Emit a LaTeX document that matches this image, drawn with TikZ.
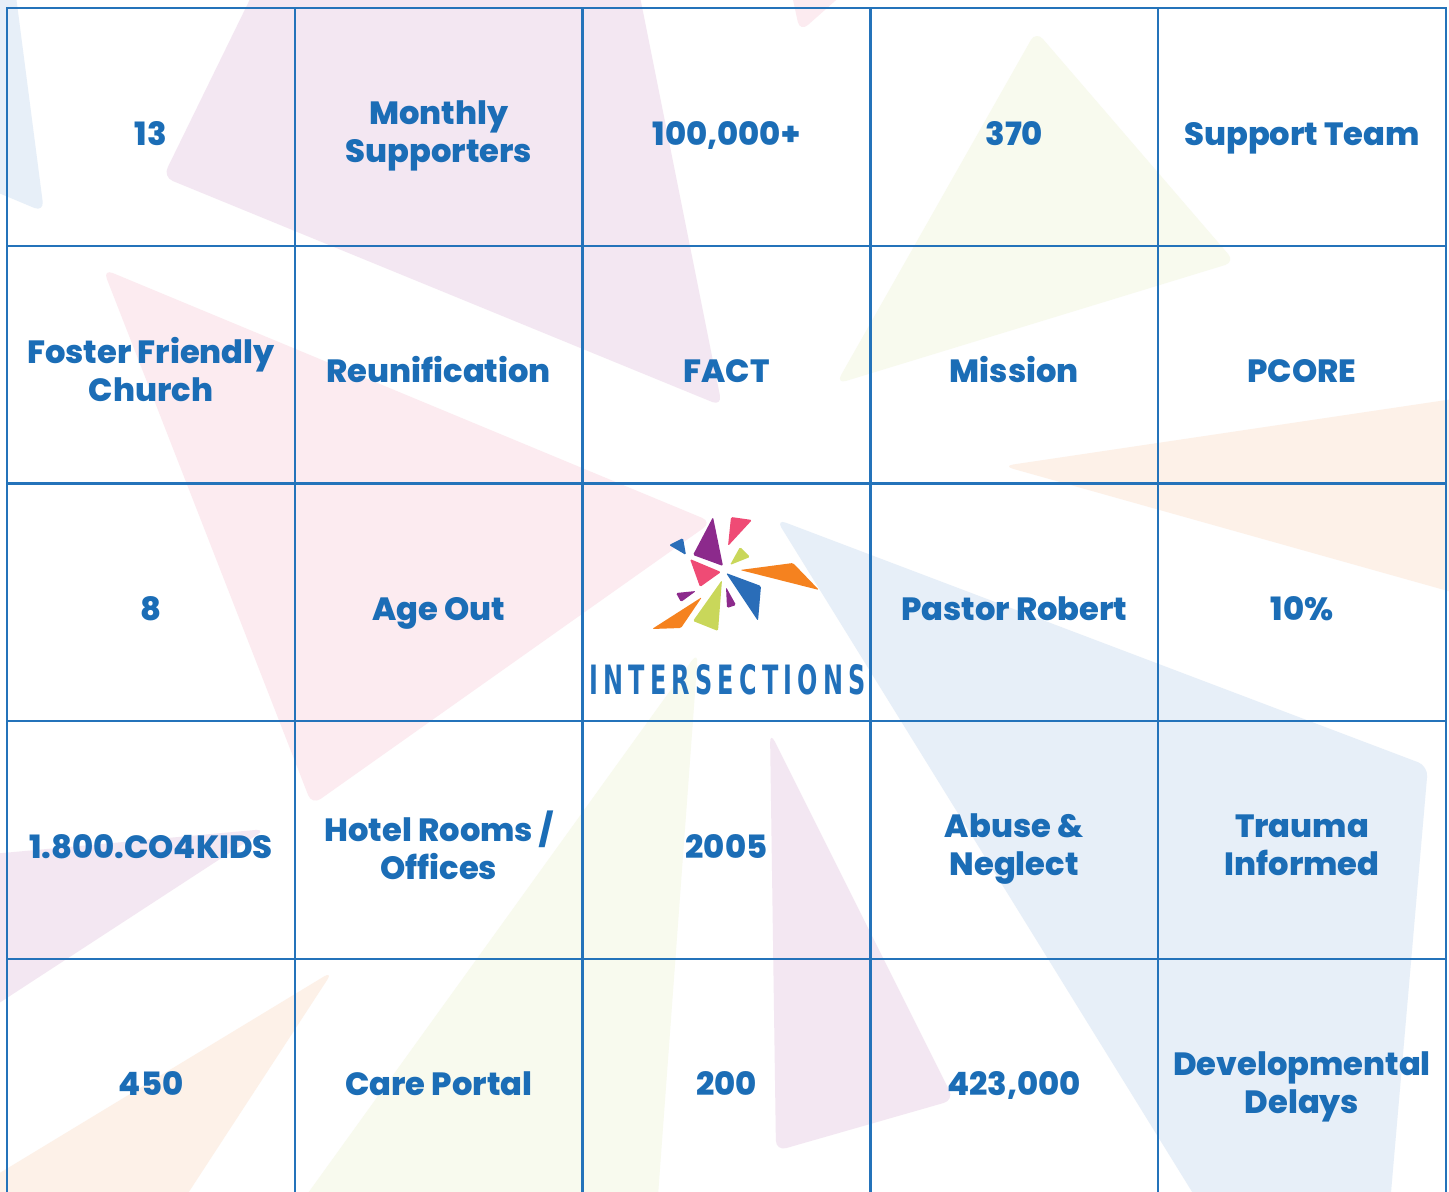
\documentclass[tikz,border=0pt]{standalone}
\usepackage{fontspec}
\setmainfont{Poppins}[BoldFont={Poppins ExtraBold}]
\newfontfamily\logofont{DejaVu Sans}[LetterSpace=22]
\usepackage{tikz}
\usetikzlibrary{positioning}

\definecolor{gridblue}{HTML}{2473BA}
\definecolor{textblue}{HTML}{1B6DB6}
\definecolor{logoblue}{HTML}{2170BA}
\definecolor{lavenderwash}{HTML}{F3E7F2}
\definecolor{pinkwash}{HTML}{FCEBF0}
\definecolor{bluewash}{HTML}{E7EFF8}
\definecolor{greenwash}{HTML}{F8FAEE}
\definecolor{peachwash}{HTML}{FDF1E8}
\definecolor{shardblue}{HTML}{2A6DB8}
\definecolor{shardpurple}{HTML}{8C2A8C}
\definecolor{shardpink}{HTML}{EF4B75}
\definecolor{shardgreen}{HTML}{C9D75A}
\definecolor{shardorange}{HTML}{F5821F}

\begin{document}
\begin{tikzpicture}
[
    x = 0.02cm, y = -0.02cm,
    node distance = 0pt,
    wash/.style = {rounded corners = 6pt},
    shard/.style = {rounded corners = 0.8pt},
    celltext/.style = {align = center, text = textblue, yshift = -0.21cm,
                       font = \fontsize{18.3}{21.6}\selectfont\bfseries,
                       execute at begin node = \strut, execute at end node = \strut},
    cell/.style = {draw = gridblue, line width = 1.4pt, minimum width = 5.756cm, minimum height = 4.755cm,
                   outer sep = 0pt, inner sep = 0pt, label = {[celltext]center:{#1}}},
]
    \useasboundingbox (0,0) rectangle (1449,1192);
    \clip (0,0) rectangle (1449,1192);
    \fill[white] (0,0) rectangle (1449,1192);

    \fill[bluewash, wash] (-30,-50) -- (10,-50) -- (44,212) -- (-30,181) -- cycle;
    \fill[lavenderwash, wash] (527,-567) -- (163,177) -- (722,406) -- cycle;
    \fill[pinkwash, wash] (780,-60) -- (800,32) -- (870,-30) -- cycle;
    \fill[greenwash, wash] (1036,31) -- (836,384) -- (1235,262) -- cycle;
    \fill[peachwash, wash] (1003,466) -- (1480,395) -- (1480,600) -- cycle;
    \fill[pinkwash, wash] (103,269) -- (712,522) -- (312,805) -- cycle;
    \fill[bluewash, wash] (776,519) -- (1428,766) -- (1386,1250) -- (1228,1250) -- cycle;
    \fill[greenwash, wash] (698,652) -- (654,1250) -- (267,1250) -- cycle;
    \fill[lavenderwash, wash] (770,732) -- (954,1100) -- (776,1151) -- cycle;
    \fill[lavenderwash, wash] (-30,856) -- (266,829) -- (-30,1022) -- cycle;
    \fill[peachwash, wash] (333,971) -- (151,1250) -- (-30,1191) -- cycle;

    \node[cell = {13}] (thirteen) at (151,127) {};
    \node[cell = {Monthly\\Supporters}, right = of thirteen] (monthly) {};
    \node[cell = {100,000+}, right = of monthly] (hundredk) {};
    \node[cell = {370}, right = of hundredk] (threeseventy) {};
    \node[cell = {Support Team}, right = of threeseventy] (supportteam) {};

    \node[cell = {Foster Friendly\\Church}, below = of thirteen] (fosterchurch) {};
    \node[cell = {Reunification}, right = of fosterchurch] (reunification) {};
    \node[cell = {FACT}, right = of reunification] (fact) {};
    \node[cell = {Mission}, right = of fact] (mission) {};
    \node[cell = {PCORE}, right = of mission] (pcore) {};

    \node[cell = {8}, below = of fosterchurch] (eight) {};
    \node[cell = {Age Out}, right = of eight] (ageout) {};
    \node[cell = {}, right = of ageout] (logo) {};
    \node[cell = {Pastor Robert}, right = of logo] (pastor) {};
    \node[cell = {10\%}, right = of pastor] (tenpercent) {};

    \node[cell = {1.800.CO4KIDS}, below = of eight] (hotline) {};
    \node[cell = {Hotel Rooms /\\Offices}, right = of hotline] (hotel) {};
    \node[cell = {2005}, right = of hotel] (founded) {};
    \node[cell = {Abuse \&\\Neglect}, right = of founded] (abuse) {};
    \node[cell = {Trauma\\Informed}, right = of abuse] (trauma) {};

    \node[cell = {450}, below = of hotline] (fourfifty) {};
    \node[cell = {Care Portal}, right = of fourfifty] (careportal) {};
    \node[cell = {200}, right = of careportal] (twohundred) {};
    \node[cell = {423,000}, right = of twohundred] (reports) {};
    \node[cell = {Developmental\\Delays}, right = of reports] (delays) {};

    \fill[shardblue, shard] (669,545) -- (683,538) -- (686,555) -- cycle;
    \fill[shardpurple, shard] (713,517) -- (693,555) -- (723,566) -- cycle;
    \fill[shardpink, shard] (731,517) -- (752,520) -- (728,546) -- cycle;
    \fill[shardgreen, shard] (740,547) -- (750,557) -- (730,565) -- cycle;
    \fill[shardpink, shard] (690,559) -- (721,572) -- (700,587) -- cycle;
    \fill[shardorange, shard] (740,570) -- (793,563) -- (819,590) -- cycle;
    \fill[shardblue, shard] (726,573) -- (761,586) -- (758,621) -- cycle;
    \fill[shardpurple, shard] (726,587) -- (736,605) -- (727,608) -- cycle;
    \fill[shardpurple, shard] (676,593) -- (696,591) -- (681,602) -- cycle;
    \fill[shardgreen, shard] (722,580) -- (718,631) -- (693,621) -- cycle;
    \fill[shardorange, shard] (702,597) -- (652,629) -- (681,628) -- cycle;
    \node[inner sep = 0pt, text = logoblue] (brand) at (727.5,680)
        {\resizebox{5.54cm}{0.6cm}{\logofont\bfseries INTERSECTIONS}};
\end{tikzpicture}
\end{document}
